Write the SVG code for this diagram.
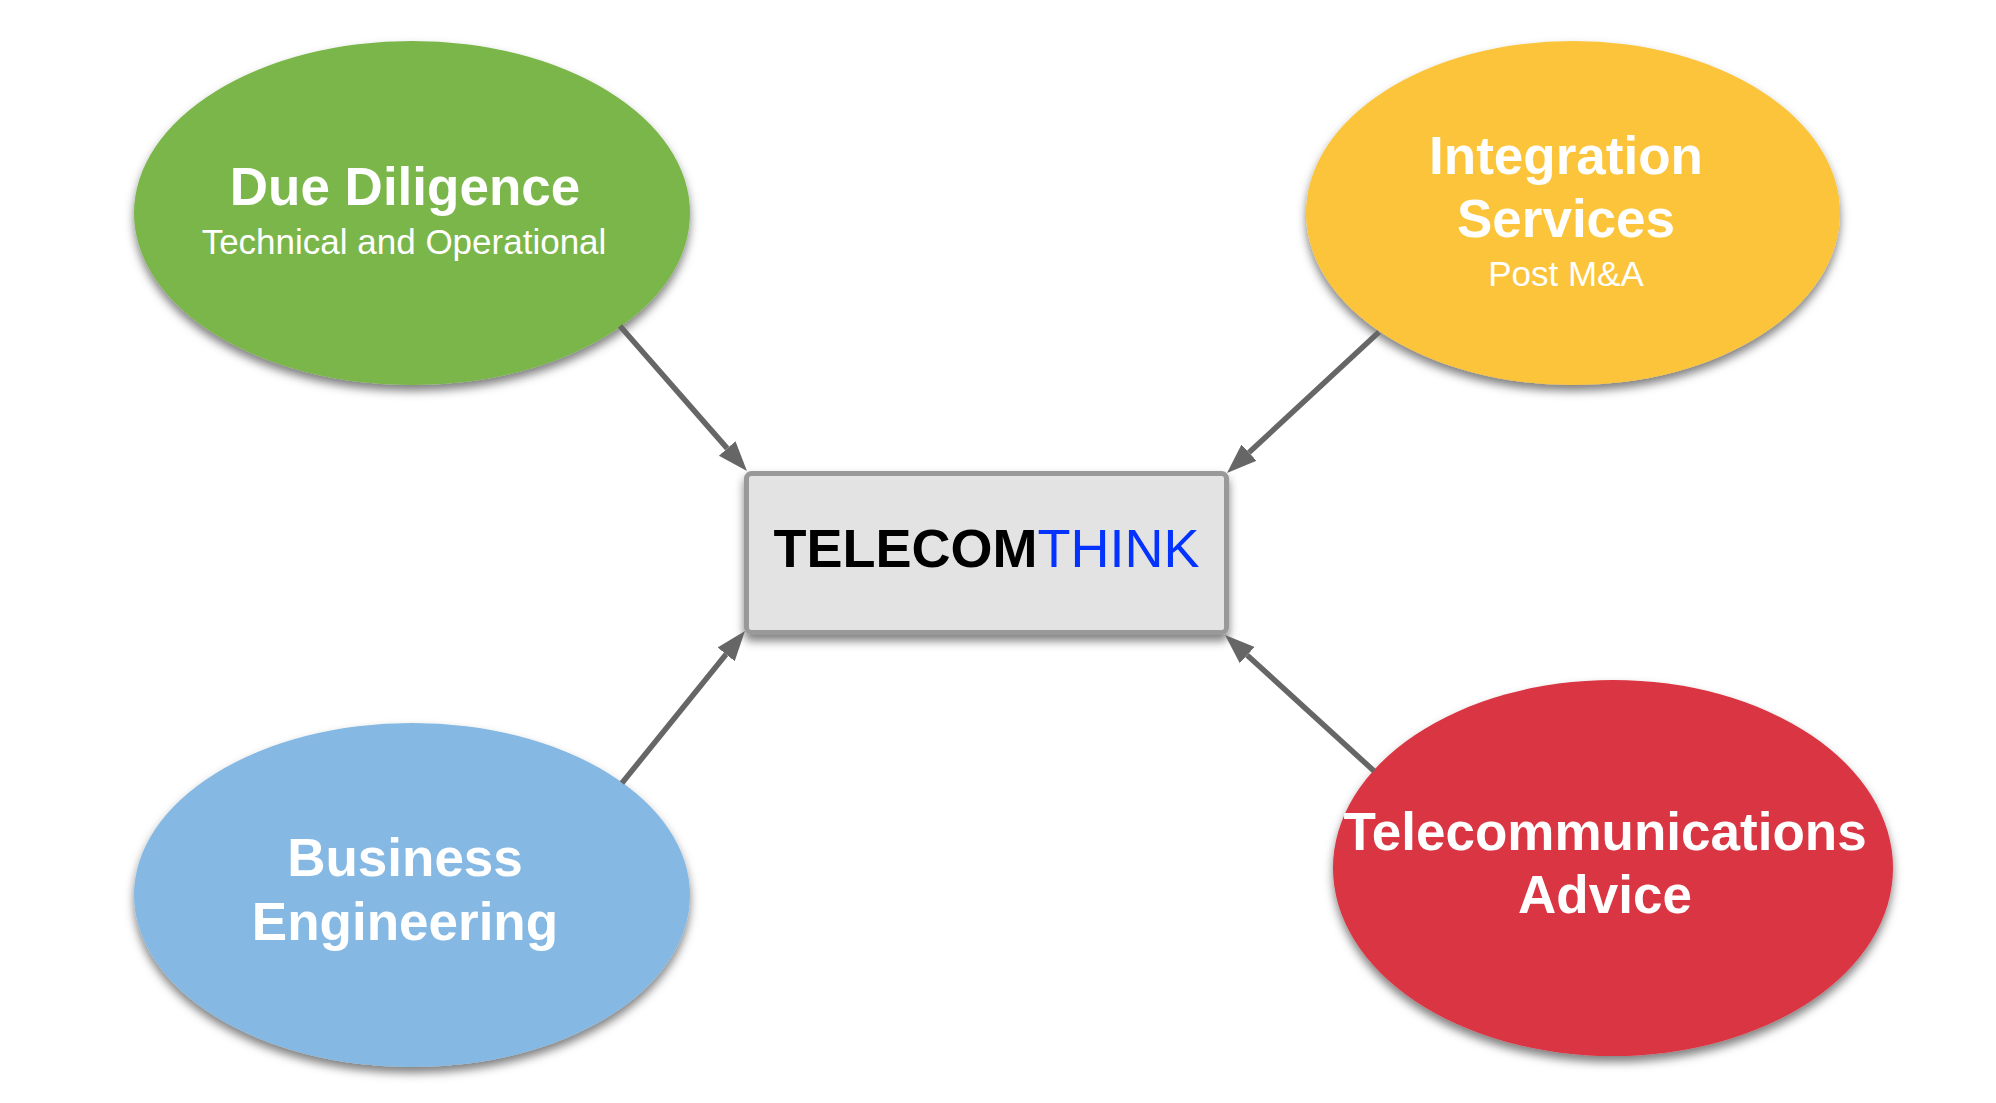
<svg xmlns="http://www.w3.org/2000/svg" width="1996" height="1103" viewBox="0 0 1996 1103">
<style>
.t{font-family:"Liberation Sans",Arial,sans-serif;fill:#fff;text-anchor:middle}
.b{font-weight:bold;font-size:53px}
.s{font-size:35px}
.c{fill:none;stroke:#666;stroke-width:5.5}
</style>
<defs>
<filter id="sh" x="-10%" y="-10%" width="120%" height="130%">
<feDropShadow dx="0" dy="6" stdDeviation="5" flood-color="#000" flood-opacity="0.5"/>
</filter>
<marker id="ah" markerUnits="userSpaceOnUse" markerWidth="32" markerHeight="24" viewBox="0 -12 32 24" refX="0" refY="0" orient="auto">
<path d="M0,-11 L30,0 L0,11 z" fill="#666"/>
</marker>
</defs>
<rect width="1996" height="1103" fill="#fff"/>
<g id="due-diligence">
<ellipse cx="412" cy="213" rx="278" ry="172" fill="#7ab648" filter="url(#sh)"/>
<text class="t b" x="405" y="205">Due Diligence</text>
<text class="t s" x="404" y="254">Technical and Operational</text>
</g>
<g id="integration-services">
<ellipse cx="1573" cy="213" rx="267" ry="172" fill="#fbc43b" filter="url(#sh)"/>
<text class="t b" x="1566" y="174">Integration</text>
<text class="t b" x="1566" y="237">Services</text>
<text class="t s" x="1566" y="286">Post M&amp;A</text>
</g>
<g id="business-engineering">
<ellipse cx="412" cy="895" rx="278" ry="172" fill="#85b9e3" filter="url(#sh)"/>
<text class="t b" x="405" y="876">Business</text>
<text class="t b" x="405" y="940">Engineering</text>
</g>
<g id="telecommunications-advice">
<ellipse cx="1613" cy="868" rx="280" ry="188" fill="#d93442" filter="url(#sh)"/>
<text class="t b" x="1605" y="850">Telecommunications</text>
<text class="t b" x="1605" y="913">Advice</text>
</g>
<g id="telecomthink">
<rect x="746.5" y="473.5" width="480" height="159" rx="5" ry="5" fill="#e3e3e3" stroke="#999" stroke-width="5" filter="url(#sh)"/>
<text x="986.5" y="567" text-anchor="middle" style="font-family:'Liberation Sans',Arial,sans-serif;font-size:54px"><tspan font-weight="bold" fill="#000">TELECOM</tspan><tspan fill="#0433ff">THINK</tspan></text>
</g>
<g id="connectors">
<path class="c" d="M620,326 L727.2,448.4" marker-end="url(#ah)"/>
<path class="c" d="M1379,332 L1249,452.6" marker-end="url(#ah)"/>
<path class="c" d="M622,783 L726.1,654.3" marker-end="url(#ah)"/>
<path class="c" d="M1374,771 L1247.2,655.2" marker-end="url(#ah)"/>
</g>
</svg>
